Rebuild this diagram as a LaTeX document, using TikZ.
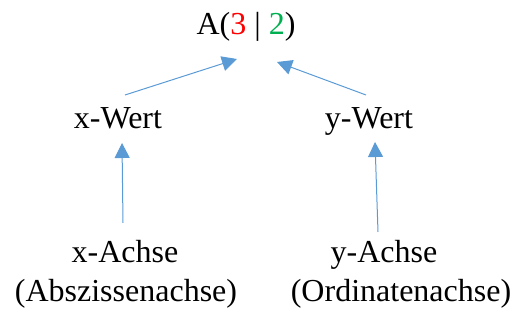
\documentclass[tikz,border=0pt]{standalone}
\usepackage{fontspec}
\setmainfont{Liberation Serif}
\usepackage{xcolor}
\usetikzlibrary{arrows.meta,positioning}

\definecolor{pfeilblau}{HTML}{5B9BD5}
\definecolor{wertrot}{HTML}{FF0000}
\definecolor{wertgruen}{HTML}{00B050}

\tikzset{
  beschr/.style={inner sep=0pt,anchor=base},
  pfeil/.style={pfeilblau,line width=1pt,->,>={Triangle[length=15pt,width=15pt]}}
}

\begin{document}
\begin{tikzpicture}[x=1pt,y=1pt,font=\fontsize{32}{38}\selectfont]
      \useasboundingbox (0,0) rectangle (514,320);

      % punkt
      \node[beschr] (punkt) at (246,285) {A(\textcolor{wertrot}{3} | \textcolor{wertgruen}{2})};

      % werte
      \node[beschr] (xwert) at (118,191) {x-Wert};
      \node[beschr] (ywert) at (369,191) {y-Wert};

      % achsen
      \node[beschr] (xachse) at (125,57) {x-Achse};
      \node[beschr] (yachse) at (384,57) {y-Achse};
      \node[beschr] (xname) at (126,18) {(Abszissenachse)};
      \node[beschr] (yname) at (401,18) {(Ordinatenachse)};

      % werte -> punkt
      \draw[pfeil] ([shift={(7,34)}]xwert.base) -> ([shift={(-9,-24)}]punkt.base);
      \draw[pfeil] ([shift={(-3,34)}]ywert.base) -> ([shift={(31,-27)}]punkt.base);

      % achsen -> werte
      \draw[pfeil] ([shift={(-2,40)}]xachse.base) -> ([shift={(4,-14)}]xwert.base);
      \draw[pfeil] ([shift={(-6,31)}]yachse.base) -> ([shift={(6,-13)}]ywert.base);

\end{tikzpicture}
\end{document}
